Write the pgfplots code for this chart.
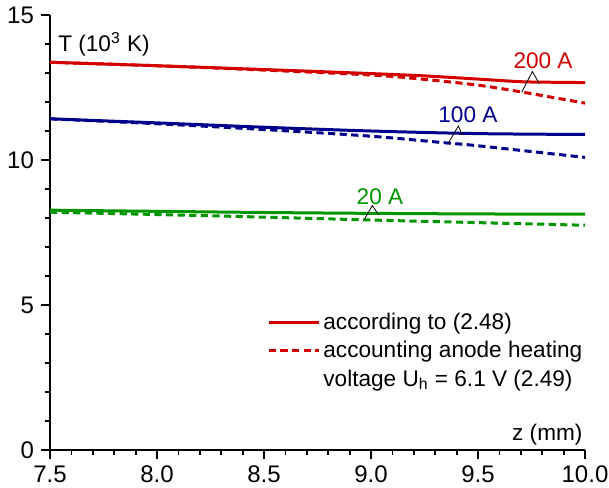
\documentclass[border=0pt]{standalone}
\usepackage{fontspec}
\setmainfont{Liberation Sans}
\usepackage{pgfplots}
\pgfplotsset{compat=1.18}
\definecolor{cred}{RGB}{212,0,0}
\definecolor{cblue}{RGB}{0,0,140}
\definecolor{cgreen}{RGB}{0,150,0}
\newcommand{\lblfont}{\fontsize{11.3}{13}\selectfont}
\begin{document}
\begin{tikzpicture}
\begin{axis}[
  scale only axis, width=267.5pt, height=217.5pt,
  xmin=7.5, xmax=10, ymin=0, ymax=15,
  axis x line*=bottom, axis y line*=left,
  axis line style={line width=1pt, black},
  xtick={7.5,8.0,8.5,9.0,9.5,10.0}, minor x tick num=4,
  ytick={0,5,10,15}, minor y tick num=4,
  tick align=outside,
  major tick length=4.5pt, minor tick length=2.5pt,
  every tick/.style={line width=0.9pt, black},
  xticklabel style={/pgf/number format/.cd, fixed, fixed zerofill, precision=1},
  /pgf/number format/assume math mode=true,
  ticklabel style={font=\fontsize{12}{14}\selectfont},
  legend style={draw=none, fill=none, at={(axis cs:8.514,4.88)}, anchor=north west,
    font=\lblfont, row sep=0.5pt, inner sep=0pt, nodes={inner xsep=1.5pt}},
  legend cell align=left,
  legend image code/.code={\draw[#1] (0pt,0pt) -- (25pt,0pt);},
  clip=false,
]
% red 200 A
\addplot[cred, line width=1.5pt, smooth, forget plot] coordinates {
(7.5,13.37) (8.0,13.25) (8.5,13.12) (9.0,12.98) (9.25,12.90) (9.5,12.79) (9.7,12.70) (9.85,12.68) (10.0,12.67)};
\addplot[cred, line width=1.5pt, dash pattern=on 3.6pt off 2.2pt, smooth, forget plot] coordinates {
(7.5,13.37) (8.0,13.25) (8.5,13.10) (9.0,12.93) (9.25,12.78) (9.5,12.58) (9.7,12.35) (10.0,11.96)};
% blue 100 A
\addplot[cblue, line width=1.5pt, smooth, forget plot] coordinates {
(7.5,11.42) (8.0,11.28) (8.5,11.13) (9.0,11.00) (9.5,10.91) (10.0,10.88)};
\addplot[cblue, line width=1.5pt, dash pattern=on 3.6pt off 2.2pt, smooth, forget plot] coordinates {
(7.5,11.42) (8.0,11.25) (8.5,11.05) (9.0,10.82) (9.35,10.59) (9.5,10.49) (10.0,10.09)};
% green 20 A
\addplot[cgreen, line width=1.5pt, smooth, forget plot] coordinates {
(7.5,8.27) (8.0,8.23) (8.5,8.19) (9.0,8.16) (9.5,8.14) (10.0,8.13)};
\addplot[cgreen, line width=1.5pt, dash pattern=on 3.6pt off 2.2pt, smooth, forget plot] coordinates {
(7.5,8.20) (8.0,8.12) (8.5,8.03) (9.0,7.93) (9.5,7.84) (10.0,7.75)};
% legend
\addlegendimage{cred, line width=1.5pt}
\addlegendentry{according to (2.48)}
\addlegendimage{cred, line width=1.5pt, dash pattern=on 3.6pt off 2.2pt}
\addlegendentry{accounting anode heating}
\addlegendimage{empty legend}
\addlegendentry{voltage U\textsubscript{h} = 6.1 V (2.49)}
% leaders and labels
\draw[black, line width=0.4pt] (axis cs:9.704,12.33) -- (axis cs:9.754,13.05) -- (axis cs:9.786,12.64);
\draw[black, line width=0.4pt] (axis cs:9.361,10.58) -- (axis cs:9.408,11.17) -- (axis cs:9.427,10.86);
\draw[black, line width=0.4pt] (axis cs:8.969,7.95) -- (axis cs:9.006,8.43) -- (axis cs:9.034,8.13);
\node[cred, anchor=base, inner sep=0pt, font=\lblfont] at (axis cs:9.804,13.17) {200 A};
\node[cblue, anchor=base, inner sep=0pt, font=\lblfont] at (axis cs:9.453,11.28) {100 A};
\node[cgreen, anchor=base, inner sep=0pt, font=\lblfont] at (axis cs:9.042,8.48) {20 A};
\node[anchor=west, inner sep=0pt, font=\lblfont] at (axis cs:7.537,14.0) {T (10\textsuperscript{3} K)};
\node[anchor=east, inner sep=0pt, font=\lblfont] at (axis cs:9.99,0.52) {z (mm)};
\end{axis}
\pgfresetboundingbox
\path (-25pt,-18.5pt) rectangle (279.5pt,225pt);
\end{tikzpicture}
\end{document}
